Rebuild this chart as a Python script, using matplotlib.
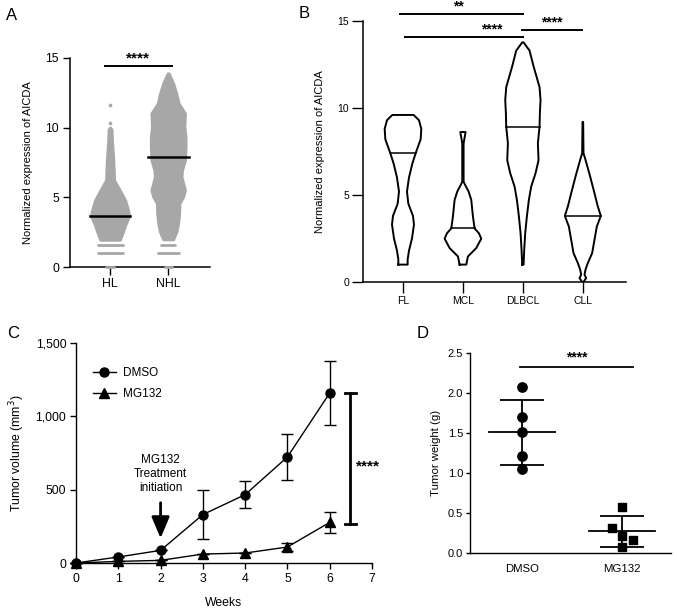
import numpy as np
import matplotlib
matplotlib.use("Agg")
import matplotlib.pyplot as plt
from matplotlib.ticker import FuncFormatter
from matplotlib.lines import Line2D

plt.rcParams['font.family'] = ['Liberation Sans', 'DejaVu Sans']

# ---- panel A: swarm outline (value, half width in category units) ----
groups_a = ["HL", "NHL"]
hl_y = [1.95, 2.5, 3.0, 3.66, 4.1, 4.8, 5.5, 6.24, 7.0, 8.0, 9.0, 9.9]
hl_hw = [0.17, 0.22, 0.26, 0.33, 0.31, 0.26, 0.17, 0.07, 0.064, 0.052, 0.035, 0.026]
nhl_y = [1.98, 2.53, 3.14, 3.85, 4.57, 5.05, 5.53, 6.0, 6.48, 6.96, 7.68, 8.64,
         9.35, 10.07, 11.03, 11.75, 12.47, 13.2, 13.9]
nhl_hw = [0.086, 0.143, 0.172, 0.19, 0.195, 0.26, 0.29, 0.26, 0.23, 0.24, 0.29,
          0.30, 0.30, 0.28, 0.29, 0.18, 0.14, 0.086, 0.01]
# dense rows of identical values at the bottom (value, half width)
hl_rows = [(0.0, 0.07), (1.03, 0.215), (1.58, 0.215)]
nhl_rows = [(0.0, 0.06), (1.03, 0.18), (1.58, 0.12)]
hl_outliers = [9.7, 10.0, 10.3, 11.6]
medians_a = [3.66, 7.87]

# ---- panel B: violin outlines (value, half width) ----
groups_b = ["FL", "MCL", "DLBCL", "CLL"]
fl_y = [1.0, 1.3, 1.8, 2.5, 3.3, 3.8, 4.5, 5.2, 6.0, 6.8, 7.4, 8.2, 8.8, 9.3, 9.6]
fl_hw = [14, 14, 18, 27, 33, 30, 16, 12, 18, 28, 38, 53, 55, 48, 32]
mcl_y = [1.0, 1.47, 1.95, 2.49, 2.8, 3.08, 3.77, 4.72, 5.2, 5.6, 5.77, 7.97, 8.3, 8.62]
mcl_hw = [10, 15, 40, 55, 48, 35, 30, 25, 17, 6, 2, 2, 5, 8]
dl_y = [1.0, 1.85, 2.81, 3.77, 4.72, 5.49, 6.25, 7.0, 7.97, 8.93, 9.7, 10.46, 11.2,
        12.4, 13.3, 13.77]
dl_hw = [2, 4, 7, 12, 18, 25, 38, 47, 45, 50, 51, 53, 50, 32, 20, 2]
cll_y = [0.0, 0.23, 0.42, 0.71, 1.09, 1.66, 2.43, 3.19, 3.8, 4.34, 5.1, 6.06, 7.02,
         7.4, 9.2]
cll_hw = [2, 10, 5, 8, 15, 28, 35, 42, 54, 45, 35, 22, 8, 2, 1]
medians_b = [7.4, 3.08, 8.93, 3.8]

# ---- panel C: tumor volume ----
weeks = [0, 1, 2, 3, 4, 5, 6]
dmso_vol = [0, 41, 86, 330, 466, 723, 1159]
dmso_err = [0, 0, 0, 165, 90, 158, 218]
mg_vol = [0, 11, 18, 61, 68, 109, 277]
mg_err = [0, 0, 0, 0, 0, 27, 72]

# ---- panel D: tumor weight ----
dmso_w = [2.08, 1.70, 1.51, 1.21, 1.05]
mg_w = [0.575, 0.317, 0.217, 0.167, 0.075]
mg_jitter = [0.0, -0.1, 0.0, 0.107, 0.0]

W, H = 677, 608
fig = plt.figure(figsize=(W / 100, H / 100), dpi=100)


def px_axes(l, r, b, t):
    return fig.add_axes([l / W, 1 - b / H, (r - l) / W, (b - t) / H])


def style(ax, lw=1.0):
    for s in ["top", "right"]:
        ax.spines[s].set_visible(False)
    for s in ["left", "bottom"]:
        ax.spines[s].set_linewidth(lw)


gray = "#a7a7a7"

# ================= A =================
ax = px_axes(70, 210, 267, 58)
style(ax, 1.1)
for i, (ys, hw, rows) in enumerate([(hl_y, hl_hw, hl_rows), (nhl_y, nhl_hw, nhl_rows)]):
    ys = np.array(ys)
    hw = np.array(hw)
    ax.fill_betweenx(ys, i - hw, i + hw, color=gray, lw=2.0, edgecolor=gray,
                     joinstyle="round", zorder=1)
    for v, w in rows:
        ax.plot([i - w, i + w], [v, v], color=gray, lw=2.0, solid_capstyle="round",
                zorder=3, clip_on=False)
ax.scatter(np.zeros(len(hl_outliers)), hl_outliers, s=7, color=gray, lw=0, zorder=1)
for i, m in enumerate(medians_a):
    ax.plot([i - 0.35, i + 0.35], [m, m], color="black", lw=1.8, zorder=3)
ax.plot([-0.09, 1.06], [14.4, 14.4], color="black", lw=1.4, clip_on=False)
ax.text(0.48, 14.45, "****", ha="center", va="bottom", fontsize=11, fontweight="bold")
ax.set_xlim(-0.69, 1.72)
ax.set_ylim(0, 15)
ax.set_yticks([0, 5, 10, 15])
ax.set_xticks([0, 1])
ax.set_xticklabels(groups_a)
ax.tick_params(axis="y", length=5, width=1.0, labelsize=8.8, pad=3)
ax.tick_params(axis="x", length=6, width=1.0, labelsize=8.8, pad=2)
ax.set_ylabel("Normalized expression of AICDA", fontsize=8, labelpad=9)
fig.text(12 / W, 1 - 16 / H, "A", fontsize=12, ha="center", va="center")

# ================= B =================
ax = px_axes(363, 626, 282, 21)
style(ax, 1.1)
profiles = [(fl_y, fl_hw), (mcl_y, mcl_hw), (dl_y, dl_hw), (cll_y, cll_hw)]
for i, (ys, hw) in enumerate(profiles):
    ys = np.array(ys, dtype=float)
    hw = np.array(hw, dtype=float) / 180.0
    xs = np.concatenate([i - hw, (i + hw)[::-1], [i - hw[0]]])
    yy = np.concatenate([ys, ys[::-1], [ys[0]]])
    ax.plot(xs, yy, color="black", lw=1.4, solid_joinstyle="round")
    m = medians_b[i]
    mw = np.interp(m, ys, hw)
    ax.plot([i - mw, i + mw], [m, m], color="black", lw=1.1)
for x0, x1, yb, xt, lab in [(-0.05, 2.0, 15.4, 0.92, "**"),
                            (0.03, 2.0, 14.1, 1.48, "****"),
                            (1.98, 2.98, 14.5, 2.48, "****")]:
    ax.plot([x0, x1], [yb, yb], color="black", lw=1.4, clip_on=False)
    ax.text(xt, yb + 0.02, lab, ha="center", va="bottom", fontsize=10,
            fontweight="bold")
ax.set_xlim(-0.667, 3.72)
ax.set_ylim(0, 15)
ax.set_yticks([0, 5, 10, 15])
ax.set_xticks(range(4))
ax.set_xticklabels(groups_b)
ax.tick_params(axis="both", length=8, width=1.0, labelsize=7.5, pad=2)
ax.set_ylabel("Normalized expression of AICDA", fontsize=8, labelpad=9)
fig.text(304 / W, 1 - 13 / H, "B", fontsize=12, ha="center", va="center")

# ================= C =================
ax = px_axes(76, 372, 563, 343)
style(ax, 1.0)
ax.errorbar(weeks, dmso_vol, yerr=dmso_err, fmt="-o", color="black",
            ms=6.5, lw=1.0, elinewidth=1.0, capsize=4, clip_on=False, zorder=3)
ax.errorbar(weeks, mg_vol, yerr=mg_err, fmt="-^", color="black", ms=6.5, lw=1.0,
            elinewidth=1.0, capsize=4, clip_on=False, zorder=3)
ax.annotate("", xy=(2, 150), xytext=(2, 430),
            arrowprops=dict(arrowstyle="-|>,head_width=0.55,head_length=1.3",
                            lw=2.0, color="black"))
ax.text(2.0, 605, "MG132\nTreatment\ninitiation", ha="center", va="center",
        fontsize=8.5, linespacing=1.2)
ax.plot([6.49, 6.49], [268, 1160], color="black", lw=2.0, clip_on=False)
for yb in [268, 1160]:
    ax.plot([6.35, 6.63], [yb, yb], color="black", lw=2.0, clip_on=False)
ax.text(6.9, 660, "****", ha="center", va="center", fontsize=11, fontweight="bold")
handles = [Line2D([], [], color="black", marker="o", ms=6.5, lw=1.0),
           Line2D([], [], color="black", marker="^", ms=6.5, lw=1.0)]
ax.legend(handles, ["DMSO", "MG132"], loc="upper left", bbox_to_anchor=(0.02, 0.94),
          frameon=False, fontsize=8.5, handlelength=2.0, handletextpad=0.6,
          labelspacing=0.8)
ax.set_xlim(0, 7)
ax.set_ylim(0, 1500)
ax.set_xticks(range(8))
ax.set_yticks([0, 500, 1000, 1500])
ax.yaxis.set_major_formatter(FuncFormatter(lambda v, p: f"{int(v):,}"))
ax.tick_params(axis="both", length=4, width=1.0, labelsize=8.8, pad=3)
ax.set_xlabel("Weeks", fontsize=8.8, labelpad=9)
ax.set_ylabel("Tumor volume (mm$^3$)", fontsize=8.8, labelpad=6)
fig.text(13 / W, 1 - 333 / H, "C", fontsize=12, ha="center", va="center")

# ================= D =================
ax = px_axes(470, 671, 553, 353)
style(ax, 1.0)
ax.scatter(np.zeros(len(dmso_w)), dmso_w, s=45, color="black", marker="o", zorder=3)
ax.scatter(1 + np.array(mg_jitter), mg_w, s=40, color="black", marker="s", zorder=3)
for i, vals in enumerate([dmso_w, mg_w]):
    m = np.mean(vals)
    sd = np.std(vals, ddof=1)
    ax.plot([i - 0.33, i + 0.33], [m, m], color="black", lw=1.3, zorder=2)
    ax.errorbar([i], [m], yerr=[sd], fmt="none", ecolor="black", elinewidth=1.3,
                capsize=16, capthick=1.3, zorder=2)
ax.plot([-0.02, 1.11], [2.33, 2.33], color="black", lw=1.3)
ax.text(0.55, 2.36, "****", ha="center", va="bottom", fontsize=10, fontweight="bold")
ax.set_xlim(-0.52, 1.49)
ax.set_ylim(0, 2.5)
ax.set_yticks([0, 0.5, 1.0, 1.5, 2.0, 2.5])
ax.yaxis.set_major_formatter(FuncFormatter(lambda v, p: f"{v:.1f}"))
ax.set_xticks([0, 1])
ax.set_xticklabels(["DMSO", "MG132"])
ax.tick_params(axis="y", length=3, width=1.0, labelsize=8, pad=2)
ax.tick_params(axis="x", length=0, labelsize=8.2, pad=8)
ax.set_ylabel("Tumor weight (g)", fontsize=8.2, labelpad=5)
fig.text(423 / W, 1 - 333 / H, "D", fontsize=12, ha="center", va="center")

fig.savefig("out.png", dpi=100)
